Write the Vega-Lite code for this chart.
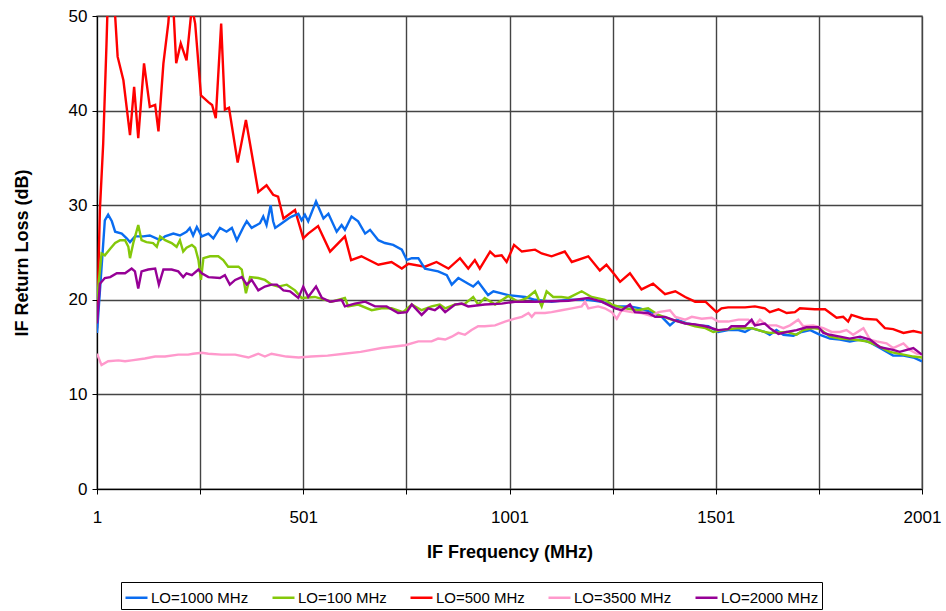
{
  "$schema": "https://vega.github.io/schema/vega-lite/v6.json",
  "width": 825,
  "height": 473,
  "autosize": {"type": "none"},
  "padding": {"left": 97, "top": 16, "right": 24, "bottom": 122},
  "background": "white",
  "config": {
    "font": "Liberation Sans",
    "view": {"stroke": "#999999", "strokeWidth": 1.5},
    "axis": {"labelFont": "Liberation Sans", "titleFont": "Liberation Sans", "labelColor": "#000", "titleColor": "#000", "domainColor": "#000", "tickColor": "#000", "gridColor": "#444", "gridWidth": 1.4, "gridOpacity": 1}
  },
  "datasets": {
    "d": [
      {"s":"LO=500 MHz","f":1,"v":17},{"s":"LO=500 MHz","f":8,"v":29.5},{"s":"LO=500 MHz","f":16,"v":36.5},{"s":"LO=500 MHz","f":24,"v":47},{"s":"LO=500 MHz","f":30,"v":56},{"s":"LO=500 MHz","f":38,"v":58},{"s":"LO=500 MHz","f":45,"v":50},{"s":"LO=500 MHz","f":51,"v":45.7},{"s":"LO=500 MHz","f":65,"v":43.2},{"s":"LO=500 MHz","f":81,"v":37.4},{"s":"LO=500 MHz","f":91,"v":42.5},{"s":"LO=500 MHz","f":101,"v":37.1},{"s":"LO=500 MHz","f":115,"v":45},{"s":"LO=500 MHz","f":129,"v":40.4},{"s":"LO=500 MHz","f":142,"v":40.6},{"s":"LO=500 MHz","f":150,"v":37.8},{"s":"LO=500 MHz","f":162,"v":45},{"s":"LO=500 MHz","f":174,"v":49.3},{"s":"LO=500 MHz","f":180,"v":53},{"s":"LO=500 MHz","f":186,"v":51},{"s":"LO=500 MHz","f":193,"v":45},{"s":"LO=500 MHz","f":204,"v":47.1},{"s":"LO=500 MHz","f":218,"v":45.3},{"s":"LO=500 MHz","f":231,"v":51},{"s":"LO=500 MHz","f":239,"v":49.2},{"s":"LO=500 MHz","f":253,"v":41.6},{"s":"LO=500 MHz","f":271,"v":40.9},{"s":"LO=500 MHz","f":280,"v":40.6},{"s":"LO=500 MHz","f":289,"v":39.2},{"s":"LO=500 MHz","f":302,"v":49.2},{"s":"LO=500 MHz","f":311,"v":40.1},{"s":"LO=500 MHz","f":321,"v":40.3},{"s":"LO=500 MHz","f":342,"v":34.5},{"s":"LO=500 MHz","f":362,"v":39.0},{"s":"LO=500 MHz","f":376,"v":35.5},{"s":"LO=500 MHz","f":392,"v":31.4},{"s":"LO=500 MHz","f":412,"v":32.1},{"s":"LO=500 MHz","f":428,"v":31.1},{"s":"LO=500 MHz","f":440,"v":30.9},{"s":"LO=500 MHz","f":453,"v":28.6},{"s":"LO=500 MHz","f":481,"v":29.5},{"s":"LO=500 MHz","f":501,"v":26.5},{"s":"LO=500 MHz","f":513,"v":27.0},{"s":"LO=500 MHz","f":537,"v":27.8},{"s":"LO=500 MHz","f":566,"v":25.1},{"s":"LO=500 MHz","f":602,"v":26.7},{"s":"LO=500 MHz","f":617,"v":24.2},{"s":"LO=500 MHz","f":642,"v":24.6},{"s":"LO=500 MHz","f":683,"v":23.7},{"s":"LO=500 MHz","f":715,"v":24.0},{"s":"LO=500 MHz","f":740,"v":23.3},{"s":"LO=500 MHz","f":756,"v":23.8},{"s":"LO=500 MHz","f":796,"v":23.5},{"s":"LO=500 MHz","f":824,"v":24.0},{"s":"LO=500 MHz","f":845,"v":23.5},{"s":"LO=500 MHz","f":853,"v":23.3},{"s":"LO=500 MHz","f":881,"v":24.4},{"s":"LO=500 MHz","f":901,"v":23.3},{"s":"LO=500 MHz","f":917,"v":24.2},{"s":"LO=500 MHz","f":929,"v":23.3},{"s":"LO=500 MHz","f":954,"v":25.1},{"s":"LO=500 MHz","f":966,"v":24.6},{"s":"LO=500 MHz","f":982,"v":24.7},{"s":"LO=500 MHz","f":994,"v":24.0},{"s":"LO=500 MHz","f":1012,"v":25.8},{"s":"LO=500 MHz","f":1031,"v":25.1},{"s":"LO=500 MHz","f":1063,"v":25.3},{"s":"LO=500 MHz","f":1079,"v":24.9},{"s":"LO=500 MHz","f":1103,"v":24.6},{"s":"LO=500 MHz","f":1135,"v":25.1},{"s":"LO=500 MHz","f":1152,"v":24.0},{"s":"LO=500 MHz","f":1192,"v":24.6},{"s":"LO=500 MHz","f":1220,"v":23.1},{"s":"LO=500 MHz","f":1236,"v":23.7},{"s":"LO=500 MHz","f":1257,"v":22.6},{"s":"LO=500 MHz","f":1269,"v":21.9},{"s":"LO=500 MHz","f":1293,"v":22.8},{"s":"LO=500 MHz","f":1321,"v":21.1},{"s":"LO=500 MHz","f":1349,"v":21.7},{"s":"LO=500 MHz","f":1378,"v":20.6},{"s":"LO=500 MHz","f":1403,"v":20.9},{"s":"LO=500 MHz","f":1427,"v":20.3},{"s":"LO=500 MHz","f":1451,"v":19.8},{"s":"LO=500 MHz","f":1476,"v":19.8},{"s":"LO=500 MHz","f":1503,"v":18.7},{"s":"LO=500 MHz","f":1515,"v":19.1},{"s":"LO=500 MHz","f":1531,"v":19.2},{"s":"LO=500 MHz","f":1572,"v":19.2},{"s":"LO=500 MHz","f":1596,"v":19.3},{"s":"LO=500 MHz","f":1620,"v":19.1},{"s":"LO=500 MHz","f":1632,"v":18.7},{"s":"LO=500 MHz","f":1653,"v":19.0},{"s":"LO=500 MHz","f":1673,"v":18.6},{"s":"LO=500 MHz","f":1693,"v":18.7},{"s":"LO=500 MHz","f":1705,"v":19.1},{"s":"LO=500 MHz","f":1741,"v":19.0},{"s":"LO=500 MHz","f":1766,"v":19.0},{"s":"LO=500 MHz","f":1794,"v":18.1},{"s":"LO=500 MHz","f":1810,"v":18.2},{"s":"LO=500 MHz","f":1822,"v":17.7},{"s":"LO=500 MHz","f":1830,"v":18.4},{"s":"LO=500 MHz","f":1859,"v":18.0},{"s":"LO=500 MHz","f":1891,"v":17.9},{"s":"LO=500 MHz","f":1911,"v":17.0},{"s":"LO=500 MHz","f":1931,"v":16.9},{"s":"LO=500 MHz","f":1956,"v":16.5},{"s":"LO=500 MHz","f":1980,"v":16.7},{"s":"LO=500 MHz","f":2001,"v":16.5},

      {"s":"LO=1000 MHz","f":1,"v":16.5},{"s":"LO=1000 MHz","f":20,"v":28.4},{"s":"LO=1000 MHz","f":28,"v":29.0},{"s":"LO=1000 MHz","f":37,"v":28.3},{"s":"LO=1000 MHz","f":45,"v":27.2},{"s":"LO=1000 MHz","f":61,"v":27.0},{"s":"LO=1000 MHz","f":73,"v":26.5},{"s":"LO=1000 MHz","f":81,"v":26.1},{"s":"LO=1000 MHz","f":93,"v":26.7},{"s":"LO=1000 MHz","f":113,"v":26.7},{"s":"LO=1000 MHz","f":129,"v":26.8},{"s":"LO=1000 MHz","f":154,"v":26.3},{"s":"LO=1000 MHz","f":166,"v":26.7},{"s":"LO=1000 MHz","f":186,"v":27.0},{"s":"LO=1000 MHz","f":202,"v":26.8},{"s":"LO=1000 MHz","f":218,"v":27.2},{"s":"LO=1000 MHz","f":226,"v":27.6},{"s":"LO=1000 MHz","f":234,"v":26.8},{"s":"LO=1000 MHz","f":243,"v":27.7},{"s":"LO=1000 MHz","f":255,"v":26.7},{"s":"LO=1000 MHz","f":271,"v":27.0},{"s":"LO=1000 MHz","f":283,"v":26.5},{"s":"LO=1000 MHz","f":299,"v":27.6},{"s":"LO=1000 MHz","f":315,"v":27.2},{"s":"LO=1000 MHz","f":328,"v":27.6},{"s":"LO=1000 MHz","f":340,"v":26.3},{"s":"LO=1000 MHz","f":356,"v":27.7},{"s":"LO=1000 MHz","f":364,"v":28.3},{"s":"LO=1000 MHz","f":376,"v":27.6},{"s":"LO=1000 MHz","f":396,"v":28.1},{"s":"LO=1000 MHz","f":404,"v":28.8},{"s":"LO=1000 MHz","f":412,"v":27.9},{"s":"LO=1000 MHz","f":422,"v":30.0},{"s":"LO=1000 MHz","f":428,"v":28.3},{"s":"LO=1000 MHz","f":433,"v":27.6},{"s":"LO=1000 MHz","f":449,"v":28.1},{"s":"LO=1000 MHz","f":465,"v":28.6},{"s":"LO=1000 MHz","f":473,"v":28.8},{"s":"LO=1000 MHz","f":489,"v":29.1},{"s":"LO=1000 MHz","f":497,"v":28.4},{"s":"LO=1000 MHz","f":505,"v":29.0},{"s":"LO=1000 MHz","f":513,"v":28.3},{"s":"LO=1000 MHz","f":532,"v":30.4},{"s":"LO=1000 MHz","f":550,"v":28.6},{"s":"LO=1000 MHz","f":562,"v":29.1},{"s":"LO=1000 MHz","f":582,"v":27.2},{"s":"LO=1000 MHz","f":594,"v":27.9},{"s":"LO=1000 MHz","f":602,"v":27.4},{"s":"LO=1000 MHz","f":618,"v":28.8},{"s":"LO=1000 MHz","f":634,"v":28.3},{"s":"LO=1000 MHz","f":651,"v":27.0},{"s":"LO=1000 MHz","f":663,"v":27.4},{"s":"LO=1000 MHz","f":683,"v":26.3},{"s":"LO=1000 MHz","f":699,"v":26.0},{"s":"LO=1000 MHz","f":719,"v":25.8},{"s":"LO=1000 MHz","f":740,"v":25.3},{"s":"LO=1000 MHz","f":752,"v":24.2},{"s":"LO=1000 MHz","f":764,"v":24.4},{"s":"LO=1000 MHz","f":780,"v":24.4},{"s":"LO=1000 MHz","f":796,"v":23.3},{"s":"LO=1000 MHz","f":828,"v":23.0},{"s":"LO=1000 MHz","f":849,"v":22.6},{"s":"LO=1000 MHz","f":861,"v":21.6},{"s":"LO=1000 MHz","f":877,"v":22.3},{"s":"LO=1000 MHz","f":901,"v":21.7},{"s":"LO=1000 MHz","f":913,"v":21.4},{"s":"LO=1000 MHz","f":925,"v":21.9},{"s":"LO=1000 MHz","f":949,"v":20.5},{"s":"LO=1000 MHz","f":962,"v":20.9},{"s":"LO=1000 MHz","f":998,"v":20.5},{"s":"LO=1000 MHz","f":1039,"v":20.3},{"s":"LO=1000 MHz","f":1063,"v":20.0},{"s":"LO=1000 MHz","f":1103,"v":19.8},{"s":"LO=1000 MHz","f":1144,"v":20.0},{"s":"LO=1000 MHz","f":1168,"v":20.0},{"s":"LO=1000 MHz","f":1192,"v":20.0},{"s":"LO=1000 MHz","f":1224,"v":19.8},{"s":"LO=1000 MHz","f":1257,"v":19.3},{"s":"LO=1000 MHz","f":1293,"v":19.3},{"s":"LO=1000 MHz","f":1317,"v":19.1},{"s":"LO=1000 MHz","f":1345,"v":18.7},{"s":"LO=1000 MHz","f":1370,"v":18.2},{"s":"LO=1000 MHz","f":1390,"v":17.3},{"s":"LO=1000 MHz","f":1406,"v":17.9},{"s":"LO=1000 MHz","f":1431,"v":17.5},{"s":"LO=1000 MHz","f":1459,"v":17.3},{"s":"LO=1000 MHz","f":1483,"v":17.2},{"s":"LO=1000 MHz","f":1507,"v":16.6},{"s":"LO=1000 MHz","f":1531,"v":16.8},{"s":"LO=1000 MHz","f":1556,"v":16.8},{"s":"LO=1000 MHz","f":1572,"v":16.6},{"s":"LO=1000 MHz","f":1588,"v":17.0},{"s":"LO=1000 MHz","f":1620,"v":16.6},{"s":"LO=1000 MHz","f":1632,"v":16.3},{"s":"LO=1000 MHz","f":1648,"v":16.8},{"s":"LO=1000 MHz","f":1665,"v":16.3},{"s":"LO=1000 MHz","f":1689,"v":16.2},{"s":"LO=1000 MHz","f":1709,"v":16.6},{"s":"LO=1000 MHz","f":1730,"v":16.8},{"s":"LO=1000 MHz","f":1754,"v":16.3},{"s":"LO=1000 MHz","f":1778,"v":15.9},{"s":"LO=1000 MHz","f":1802,"v":15.8},{"s":"LO=1000 MHz","f":1826,"v":15.6},{"s":"LO=1000 MHz","f":1851,"v":15.8},{"s":"LO=1000 MHz","f":1875,"v":15.5},{"s":"LO=1000 MHz","f":1899,"v":14.9},{"s":"LO=1000 MHz","f":1931,"v":14.1},{"s":"LO=1000 MHz","f":1956,"v":14.1},{"s":"LO=1000 MHz","f":1980,"v":13.9},{"s":"LO=1000 MHz","f":2001,"v":13.5},

      {"s":"LO=100 MHz","f":1,"v":20},{"s":"LO=100 MHz","f":12,"v":24.9},{"s":"LO=100 MHz","f":20,"v":24.7},{"s":"LO=100 MHz","f":33,"v":25.4},{"s":"LO=100 MHz","f":45,"v":26.0},{"s":"LO=100 MHz","f":57,"v":26.3},{"s":"LO=100 MHz","f":69,"v":26.3},{"s":"LO=100 MHz","f":77,"v":25.6},{"s":"LO=100 MHz","f":81,"v":24.4},{"s":"LO=100 MHz","f":89,"v":26.0},{"s":"LO=100 MHz","f":101,"v":27.9},{"s":"LO=100 MHz","f":109,"v":26.3},{"s":"LO=100 MHz","f":121,"v":26.1},{"s":"LO=100 MHz","f":137,"v":26.0},{"s":"LO=100 MHz","f":146,"v":25.6},{"s":"LO=100 MHz","f":154,"v":26.7},{"s":"LO=100 MHz","f":166,"v":26.3},{"s":"LO=100 MHz","f":182,"v":26.0},{"s":"LO=100 MHz","f":194,"v":25.6},{"s":"LO=100 MHz","f":202,"v":26.3},{"s":"LO=100 MHz","f":210,"v":25.1},{"s":"LO=100 MHz","f":218,"v":25.5},{"s":"LO=100 MHz","f":231,"v":25.8},{"s":"LO=100 MHz","f":239,"v":25.5},{"s":"LO=100 MHz","f":247,"v":24.2},{"s":"LO=100 MHz","f":253,"v":22.1},{"s":"LO=100 MHz","f":259,"v":24.4},{"s":"LO=100 MHz","f":275,"v":24.6},{"s":"LO=100 MHz","f":295,"v":24.6},{"s":"LO=100 MHz","f":307,"v":24.2},{"s":"LO=100 MHz","f":319,"v":23.5},{"s":"LO=100 MHz","f":344,"v":23.5},{"s":"LO=100 MHz","f":352,"v":23.2},{"s":"LO=100 MHz","f":362,"v":20.7},{"s":"LO=100 MHz","f":372,"v":22.4},{"s":"LO=100 MHz","f":392,"v":22.3},{"s":"LO=100 MHz","f":408,"v":22.1},{"s":"LO=100 MHz","f":424,"v":21.6},{"s":"LO=100 MHz","f":440,"v":21.4},{"s":"LO=100 MHz","f":461,"v":21.6},{"s":"LO=100 MHz","f":481,"v":21.0},{"s":"LO=100 MHz","f":497,"v":20.2},{"s":"LO=100 MHz","f":529,"v":20.3},{"s":"LO=100 MHz","f":554,"v":20.0},{"s":"LO=100 MHz","f":570,"v":19.8},{"s":"LO=100 MHz","f":602,"v":20.2},{"s":"LO=100 MHz","f":610,"v":19.3},{"s":"LO=100 MHz","f":634,"v":19.5},{"s":"LO=100 MHz","f":667,"v":18.9},{"s":"LO=100 MHz","f":691,"v":19.1},{"s":"LO=100 MHz","f":715,"v":19.1},{"s":"LO=100 MHz","f":743,"v":18.7},{"s":"LO=100 MHz","f":764,"v":19.5},{"s":"LO=100 MHz","f":788,"v":18.9},{"s":"LO=100 MHz","f":812,"v":19.3},{"s":"LO=100 MHz","f":832,"v":19.5},{"s":"LO=100 MHz","f":845,"v":19.1},{"s":"LO=100 MHz","f":869,"v":19.5},{"s":"LO=100 MHz","f":893,"v":19.6},{"s":"LO=100 MHz","f":913,"v":20.3},{"s":"LO=100 MHz","f":925,"v":19.5},{"s":"LO=100 MHz","f":941,"v":20.2},{"s":"LO=100 MHz","f":966,"v":19.5},{"s":"LO=100 MHz","f":998,"v":20.4},{"s":"LO=100 MHz","f":1022,"v":19.8},{"s":"LO=100 MHz","f":1043,"v":20.2},{"s":"LO=100 MHz","f":1063,"v":20.9},{"s":"LO=100 MHz","f":1079,"v":19.3},{"s":"LO=100 MHz","f":1091,"v":20.9},{"s":"LO=100 MHz","f":1107,"v":20.3},{"s":"LO=100 MHz","f":1127,"v":20.3},{"s":"LO=100 MHz","f":1144,"v":20.2},{"s":"LO=100 MHz","f":1176,"v":20.9},{"s":"LO=100 MHz","f":1200,"v":20.3},{"s":"LO=100 MHz","f":1232,"v":20.0},{"s":"LO=100 MHz","f":1249,"v":19.5},{"s":"LO=100 MHz","f":1281,"v":19.1},{"s":"LO=100 MHz","f":1313,"v":18.9},{"s":"LO=100 MHz","f":1337,"v":19.1},{"s":"LO=100 MHz","f":1362,"v":18.4},{"s":"LO=100 MHz","f":1394,"v":17.9},{"s":"LO=100 MHz","f":1427,"v":17.5},{"s":"LO=100 MHz","f":1451,"v":17.2},{"s":"LO=100 MHz","f":1476,"v":17.0},{"s":"LO=100 MHz","f":1495,"v":16.6},{"s":"LO=100 MHz","f":1515,"v":16.8},{"s":"LO=100 MHz","f":1556,"v":17.0},{"s":"LO=100 MHz","f":1588,"v":17.0},{"s":"LO=100 MHz","f":1620,"v":16.6},{"s":"LO=100 MHz","f":1632,"v":16.5},{"s":"LO=100 MHz","f":1673,"v":16.6},{"s":"LO=100 MHz","f":1697,"v":16.3},{"s":"LO=100 MHz","f":1713,"v":16.8},{"s":"LO=100 MHz","f":1737,"v":17.0},{"s":"LO=100 MHz","f":1754,"v":16.9},{"s":"LO=100 MHz","f":1778,"v":16.1},{"s":"LO=100 MHz","f":1802,"v":15.9},{"s":"LO=100 MHz","f":1834,"v":15.8},{"s":"LO=100 MHz","f":1867,"v":15.6},{"s":"LO=100 MHz","f":1891,"v":15.2},{"s":"LO=100 MHz","f":1923,"v":14.5},{"s":"LO=100 MHz","f":1956,"v":14.2},{"s":"LO=100 MHz","f":1980,"v":14.0},{"s":"LO=100 MHz","f":2001,"v":13.9},

      {"s":"LO=3500 MHz","f":1,"v":14.3},{"s":"LO=3500 MHz","f":12,"v":13.1},{"s":"LO=3500 MHz","f":28,"v":13.5},{"s":"LO=3500 MHz","f":53,"v":13.6},{"s":"LO=3500 MHz","f":69,"v":13.5},{"s":"LO=3500 MHz","f":85,"v":13.6},{"s":"LO=3500 MHz","f":117,"v":13.8},{"s":"LO=3500 MHz","f":142,"v":14.0},{"s":"LO=3500 MHz","f":166,"v":14.0},{"s":"LO=3500 MHz","f":198,"v":14.2},{"s":"LO=3500 MHz","f":222,"v":14.2},{"s":"LO=3500 MHz","f":234,"v":14.3},{"s":"LO=3500 MHz","f":255,"v":14.4},{"s":"LO=3500 MHz","f":271,"v":14.3},{"s":"LO=3500 MHz","f":303,"v":14.2},{"s":"LO=3500 MHz","f":336,"v":14.2},{"s":"LO=3500 MHz","f":368,"v":13.9},{"s":"LO=3500 MHz","f":392,"v":14.3},{"s":"LO=3500 MHz","f":408,"v":14.0},{"s":"LO=3500 MHz","f":424,"v":14.3},{"s":"LO=3500 MHz","f":460,"v":14.0},{"s":"LO=3500 MHz","f":490,"v":13.9},{"s":"LO=3500 MHz","f":520,"v":14.0},{"s":"LO=3500 MHz","f":560,"v":14.1},{"s":"LO=3500 MHz","f":600,"v":14.3},{"s":"LO=3500 MHz","f":640,"v":14.5},{"s":"LO=3500 MHz","f":691,"v":14.9},{"s":"LO=3500 MHz","f":748,"v":15.2},{"s":"LO=3500 MHz","f":780,"v":15.6},{"s":"LO=3500 MHz","f":812,"v":15.6},{"s":"LO=3500 MHz","f":828,"v":15.9},{"s":"LO=3500 MHz","f":845,"v":15.8},{"s":"LO=3500 MHz","f":861,"v":16.1},{"s":"LO=3500 MHz","f":877,"v":16.5},{"s":"LO=3500 MHz","f":893,"v":16.3},{"s":"LO=3500 MHz","f":909,"v":16.8},{"s":"LO=3500 MHz","f":925,"v":17.2},{"s":"LO=3500 MHz","f":941,"v":17.2},{"s":"LO=3500 MHz","f":966,"v":17.3},{"s":"LO=3500 MHz","f":990,"v":17.7},{"s":"LO=3500 MHz","f":1014,"v":18.0},{"s":"LO=3500 MHz","f":1031,"v":18.2},{"s":"LO=3500 MHz","f":1047,"v":18.6},{"s":"LO=3500 MHz","f":1055,"v":18.2},{"s":"LO=3500 MHz","f":1063,"v":18.6},{"s":"LO=3500 MHz","f":1087,"v":18.6},{"s":"LO=3500 MHz","f":1103,"v":18.7},{"s":"LO=3500 MHz","f":1127,"v":18.9},{"s":"LO=3500 MHz","f":1152,"v":19.1},{"s":"LO=3500 MHz","f":1176,"v":19.3},{"s":"LO=3500 MHz","f":1184,"v":19.8},{"s":"LO=3500 MHz","f":1192,"v":19.1},{"s":"LO=3500 MHz","f":1216,"v":19.3},{"s":"LO=3500 MHz","f":1232,"v":19.1},{"s":"LO=3500 MHz","f":1249,"v":18.7},{"s":"LO=3500 MHz","f":1261,"v":18.0},{"s":"LO=3500 MHz","f":1273,"v":18.9},{"s":"LO=3500 MHz","f":1297,"v":18.7},{"s":"LO=3500 MHz","f":1321,"v":18.6},{"s":"LO=3500 MHz","f":1345,"v":18.3},{"s":"LO=3500 MHz","f":1362,"v":18.7},{"s":"LO=3500 MHz","f":1390,"v":18.9},{"s":"LO=3500 MHz","f":1403,"v":18.2},{"s":"LO=3500 MHz","f":1427,"v":17.9},{"s":"LO=3500 MHz","f":1443,"v":18.2},{"s":"LO=3500 MHz","f":1467,"v":18.0},{"s":"LO=3500 MHz","f":1491,"v":18.1},{"s":"LO=3500 MHz","f":1507,"v":17.7},{"s":"LO=3500 MHz","f":1531,"v":17.7},{"s":"LO=3500 MHz","f":1556,"v":17.9},{"s":"LO=3500 MHz","f":1580,"v":17.9},{"s":"LO=3500 MHz","f":1596,"v":17.3},{"s":"LO=3500 MHz","f":1608,"v":17.9},{"s":"LO=3500 MHz","f":1624,"v":17.3},{"s":"LO=3500 MHz","f":1648,"v":17.3},{"s":"LO=3500 MHz","f":1665,"v":17.0},{"s":"LO=3500 MHz","f":1681,"v":17.3},{"s":"LO=3500 MHz","f":1701,"v":17.9},{"s":"LO=3500 MHz","f":1713,"v":17.2},{"s":"LO=3500 MHz","f":1737,"v":17.3},{"s":"LO=3500 MHz","f":1762,"v":17.0},{"s":"LO=3500 MHz","f":1782,"v":16.6},{"s":"LO=3500 MHz","f":1802,"v":16.6},{"s":"LO=3500 MHz","f":1818,"v":16.8},{"s":"LO=3500 MHz","f":1834,"v":16.3},{"s":"LO=3500 MHz","f":1859,"v":17.0},{"s":"LO=3500 MHz","f":1875,"v":15.8},{"s":"LO=3500 MHz","f":1891,"v":15.6},{"s":"LO=3500 MHz","f":1915,"v":15.4},{"s":"LO=3500 MHz","f":1931,"v":14.9},{"s":"LO=3500 MHz","f":1956,"v":15.4},{"s":"LO=3500 MHz","f":1972,"v":14.7},{"s":"LO=3500 MHz","f":1988,"v":14.3},{"s":"LO=3500 MHz","f":2001,"v":14.2},

      {"s":"LO=2000 MHz","f":1,"v":17.5},{"s":"LO=2000 MHz","f":8,"v":21.7},{"s":"LO=2000 MHz","f":20,"v":22.3},{"s":"LO=2000 MHz","f":33,"v":22.4},{"s":"LO=2000 MHz","f":49,"v":22.8},{"s":"LO=2000 MHz","f":69,"v":22.8},{"s":"LO=2000 MHz","f":85,"v":23.3},{"s":"LO=2000 MHz","f":93,"v":23.0},{"s":"LO=2000 MHz","f":101,"v":21.2},{"s":"LO=2000 MHz","f":109,"v":23.0},{"s":"LO=2000 MHz","f":125,"v":23.2},{"s":"LO=2000 MHz","f":142,"v":23.3},{"s":"LO=2000 MHz","f":151,"v":21.6},{"s":"LO=2000 MHz","f":162,"v":23.2},{"s":"LO=2000 MHz","f":182,"v":23.2},{"s":"LO=2000 MHz","f":198,"v":23.0},{"s":"LO=2000 MHz","f":210,"v":22.4},{"s":"LO=2000 MHz","f":218,"v":22.8},{"s":"LO=2000 MHz","f":231,"v":22.6},{"s":"LO=2000 MHz","f":247,"v":23.2},{"s":"LO=2000 MHz","f":255,"v":22.8},{"s":"LO=2000 MHz","f":271,"v":22.4},{"s":"LO=2000 MHz","f":299,"v":22.3},{"s":"LO=2000 MHz","f":311,"v":22.6},{"s":"LO=2000 MHz","f":323,"v":21.6},{"s":"LO=2000 MHz","f":336,"v":22.1},{"s":"LO=2000 MHz","f":352,"v":22.4},{"s":"LO=2000 MHz","f":364,"v":21.6},{"s":"LO=2000 MHz","f":376,"v":22.1},{"s":"LO=2000 MHz","f":392,"v":21.0},{"s":"LO=2000 MHz","f":408,"v":21.4},{"s":"LO=2000 MHz","f":424,"v":21.6},{"s":"LO=2000 MHz","f":437,"v":21.6},{"s":"LO=2000 MHz","f":453,"v":21.0},{"s":"LO=2000 MHz","f":469,"v":20.9},{"s":"LO=2000 MHz","f":489,"v":20.2},{"s":"LO=2000 MHz","f":501,"v":21.4},{"s":"LO=2000 MHz","f":513,"v":20.3},{"s":"LO=2000 MHz","f":532,"v":21.4},{"s":"LO=2000 MHz","f":546,"v":20.2},{"s":"LO=2000 MHz","f":566,"v":19.8},{"s":"LO=2000 MHz","f":594,"v":20.0},{"s":"LO=2000 MHz","f":602,"v":19.3},{"s":"LO=2000 MHz","f":626,"v":19.6},{"s":"LO=2000 MHz","f":651,"v":19.8},{"s":"LO=2000 MHz","f":675,"v":19.3},{"s":"LO=2000 MHz","f":703,"v":19.3},{"s":"LO=2000 MHz","f":731,"v":18.6},{"s":"LO=2000 MHz","f":752,"v":18.7},{"s":"LO=2000 MHz","f":764,"v":19.5},{"s":"LO=2000 MHz","f":788,"v":18.4},{"s":"LO=2000 MHz","f":804,"v":19.1},{"s":"LO=2000 MHz","f":820,"v":18.9},{"s":"LO=2000 MHz","f":832,"v":19.3},{"s":"LO=2000 MHz","f":845,"v":18.7},{"s":"LO=2000 MHz","f":869,"v":19.5},{"s":"LO=2000 MHz","f":885,"v":19.6},{"s":"LO=2000 MHz","f":901,"v":19.3},{"s":"LO=2000 MHz","f":941,"v":19.5},{"s":"LO=2000 MHz","f":982,"v":19.6},{"s":"LO=2000 MHz","f":1014,"v":19.8},{"s":"LO=2000 MHz","f":1063,"v":19.8},{"s":"LO=2000 MHz","f":1144,"v":19.9},{"s":"LO=2000 MHz","f":1192,"v":20.2},{"s":"LO=2000 MHz","f":1224,"v":19.8},{"s":"LO=2000 MHz","f":1257,"v":19.1},{"s":"LO=2000 MHz","f":1273,"v":18.9},{"s":"LO=2000 MHz","f":1293,"v":19.5},{"s":"LO=2000 MHz","f":1305,"v":18.7},{"s":"LO=2000 MHz","f":1337,"v":18.6},{"s":"LO=2000 MHz","f":1354,"v":18.2},{"s":"LO=2000 MHz","f":1378,"v":18.2},{"s":"LO=2000 MHz","f":1403,"v":17.8},{"s":"LO=2000 MHz","f":1427,"v":17.5},{"s":"LO=2000 MHz","f":1451,"v":17.4},{"s":"LO=2000 MHz","f":1476,"v":17.2},{"s":"LO=2000 MHz","f":1507,"v":16.8},{"s":"LO=2000 MHz","f":1531,"v":16.9},{"s":"LO=2000 MHz","f":1539,"v":17.2},{"s":"LO=2000 MHz","f":1572,"v":17.2},{"s":"LO=2000 MHz","f":1588,"v":17.9},{"s":"LO=2000 MHz","f":1596,"v":17.3},{"s":"LO=2000 MHz","f":1620,"v":17.5},{"s":"LO=2000 MHz","f":1632,"v":17.0},{"s":"LO=2000 MHz","f":1653,"v":16.4},{"s":"LO=2000 MHz","f":1673,"v":16.6},{"s":"LO=2000 MHz","f":1697,"v":16.8},{"s":"LO=2000 MHz","f":1721,"v":17.1},{"s":"LO=2000 MHz","f":1750,"v":17.1},{"s":"LO=2000 MHz","f":1762,"v":16.5},{"s":"LO=2000 MHz","f":1778,"v":16.3},{"s":"LO=2000 MHz","f":1802,"v":16.1},{"s":"LO=2000 MHz","f":1826,"v":15.9},{"s":"LO=2000 MHz","f":1851,"v":16.1},{"s":"LO=2000 MHz","f":1875,"v":15.8},{"s":"LO=2000 MHz","f":1899,"v":15.0},{"s":"LO=2000 MHz","f":1931,"v":14.7},{"s":"LO=2000 MHz","f":1947,"v":14.5},{"s":"LO=2000 MHz","f":1980,"v":14.9},{"s":"LO=2000 MHz","f":2001,"v":14.2}
    ]
  },
  "data": {"name": "d"},
  "mark": {"type": "line", "strokeWidth": 2.4, "clip": true, "interpolate": "linear"},
  "encoding": {
    "x": {
      "field": "f", "type": "quantitative",
      "scale": {"domain": [1, 2001], "nice": false, "zero": false},
      "axis": {
        "title": "IF Frequency (MHz)", "titleFontSize": 18, "titleFontWeight": "bold", "titlePadding": 18,
        "values": [1, 251, 501, 751, 1001, 1251, 1501, 1751, 2001],
        "format": "d",
        "labelExpr": "(datum.value - 1) % 500 == 0 ? datum.label : ''",
        "labelFontSize": 17, "labelFlush": false, "labelPadding": 15, "tickSize": 5,
        "labelOverlap": false, "grid": true
      }
    },
    "y": {
      "field": "v", "type": "quantitative",
      "scale": {"domain": [0, 50], "nice": false},
      "axis": {
        "title": "IF Return Loss (dB)", "titleFontSize": 18, "titleFontWeight": "bold", "titlePadding": 37,
        "values": [0, 10, 20, 30, 40, 50],
        "labelFontSize": 17, "labelPadding": 5, "tickSize": 5, "grid": true
      }
    },
    "color": {
      "field": "s", "type": "nominal",
      "scale": {
        "domain": ["LO=1000 MHz", "LO=100 MHz", "LO=500 MHz", "LO=3500 MHz", "LO=2000 MHz"],
        "range": ["#0A6CF0", "#84C80A", "#FF0000", "#FF99CC", "#960096"]
      },
      "legend": {
        "title": null, "orient": "none", "legendX": 24, "legendY": 566,
        "direction": "horizontal", "strokeColor": "#000", "padding": 3,
        "symbolType": "stroke", "symbolSize": 484, "symbolStrokeWidth": 2.5,
        "labelFontSize": 15, "labelFont": "Liberation Sans", "labelColor": "#000",
        "columnPadding": 18, "labelOffset": 2
      }
    }
  }
}
